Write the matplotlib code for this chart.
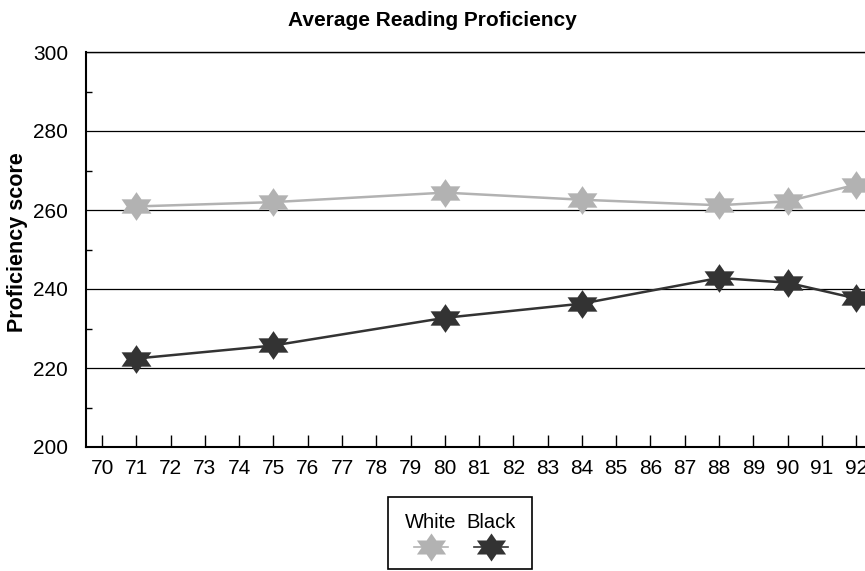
import matplotlib
matplotlib.use("Agg")
import matplotlib.pyplot as plt
import numpy as np
from matplotlib.path import Path
from matplotlib.lines import Line2D
from matplotlib.patches import Rectangle

plt.rcParams['font.family'] = ['Liberation Sans', 'DejaVu Sans']

years = [71, 75, 80, 84, 88, 90, 92]
white = [260.9, 262.0, 264.4, 262.6, 261.2, 262.2, 266.4]
black = [222.4, 225.7, 232.7, 236.3, 242.8, 241.6, 237.6]
series_names = ['White', 'Black']
series_colors = ['#b2b2b2', '#333333']
x_ticks = list(range(70, 93))

# six-pointed star marker, a bit wider than tall
ang = np.pi / 2 + np.arange(12) * np.pi / 6
rad = np.where(np.arange(12) % 2 == 0, 1.0, 0.577)
verts = np.column_stack([1.2 * rad * np.cos(ang), rad * np.sin(ang)])
verts = np.vstack([verts, verts[:1]])
codes = [Path.MOVETO] + [Path.LINETO] * 11 + [Path.CLOSEPOLY]
star = Path(verts, codes)

fig = plt.figure(figsize=(8.65, 5.71), dpi=100)
ax = fig.add_axes([86 / 865, 1 - 447 / 571, 1 - 86 / 865, (447 - 52) / 571])

for vals, c in zip([white, black], series_colors):
    ax.plot(years, vals, color=c, lw=1.8, marker=star, markersize=21.5,
            markeredgewidth=0, zorder=3)

ax.set_xlim(69.53, 92.26)
ax.set_ylim(200, 300)
ax.set_xticks(x_ticks)
ax.set_yticks(range(200, 301, 20))
ax.set_yticks(range(210, 300, 20), minor=True)
ax.yaxis.grid(True, color='black', lw=0.9)
ax.set_axisbelow(True)
ax.tick_params(axis='x', direction='in', length=9, width=1, labelsize=15, pad=9)
ax.tick_params(axis='y', which='major', length=0, labelsize=15, pad=13)
ax.tick_params(axis='y', which='minor', direction='in', length=4, width=1)
ax.spines['right'].set_visible(False)
ax.spines['left'].set_linewidth(1.5)
ax.spines['bottom'].set_linewidth(1.5)
ax.spines['top'].set_linewidth(1.0)

fig.text(0.5, 1 - 20 / 571, 'Average Reading Proficiency', ha='center', va='center',
         fontsize=15, fontweight='bold')
fig.text(18 / 865, 1 - 242 / 571, 'Proficiency score', ha='center', va='center',
         rotation=90, fontsize=15.5, fontweight='bold')

# legend box below the plot
fig.patches.append(Rectangle((388 / 865, 1 - 569 / 571), 144 / 865, 72 / 571,
                             transform=fig.transFigure, fill=False, ec='black', lw=1.2))
for name, c, tx, mx in zip(series_names, series_colors, [431, 491], [431, 491]):
    fig.text(tx / 865, 1 - 523 / 571, name, ha='center', va='center', fontsize=14.5)
    fig.lines.append(Line2D([(mx - 17) / 865, (mx + 17) / 865], [1 - 547 / 571] * 2,
                            transform=fig.transFigure, color=c, lw=1.2))
    fig.lines.append(Line2D([mx / 865], [1 - 547 / 571], transform=fig.transFigure,
                            color=c, marker=star, markersize=21, markeredgewidth=0))

fig.savefig('out.png', dpi=100)
